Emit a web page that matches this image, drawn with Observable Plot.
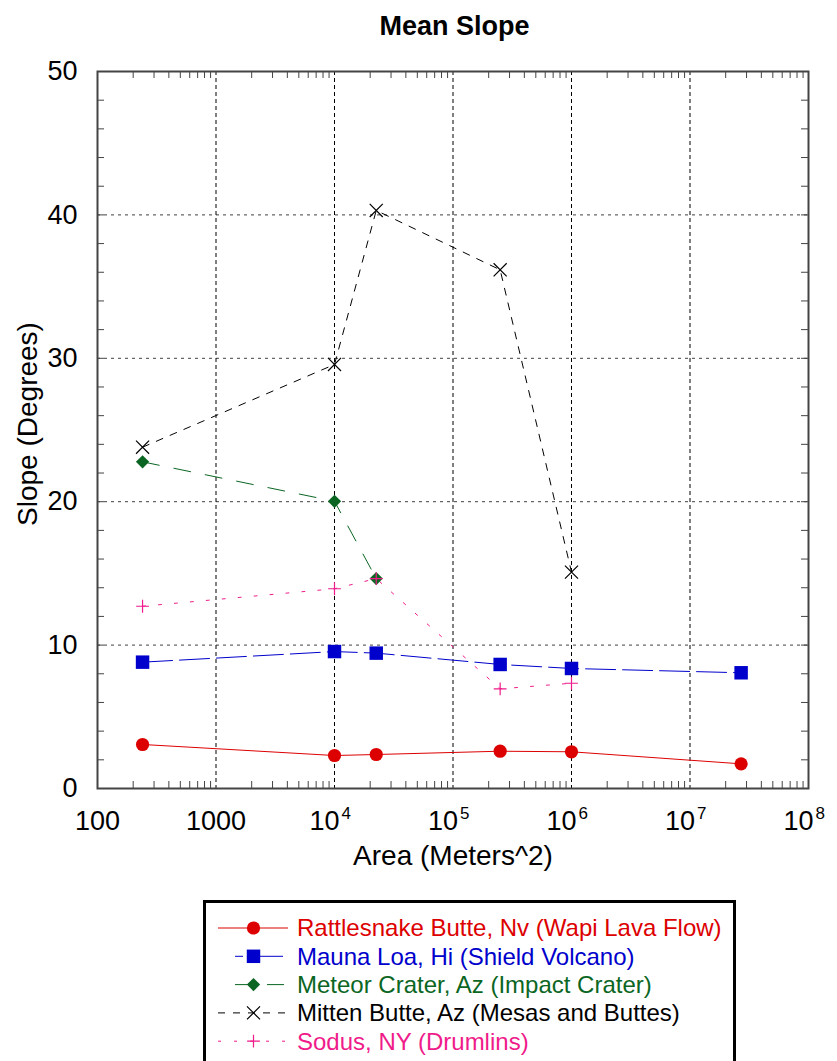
<!DOCTYPE html>
<html><head><meta charset="utf-8">
<script src="https://cdn.jsdelivr.net/npm/d3@7"></script>
<script src="https://cdn.jsdelivr.net/npm/@observablehq/plot@0.6"></script>
<style>
body{margin:0;background:#fff;font-family:"Liberation Sans",Arial,sans-serif;}
#wrap{position:relative;width:837px;height:1061px;overflow:hidden;background:#fff;}
#title{position:absolute;left:0;width:909px;top:13px;line-height:26px;text-align:center;font-weight:bold;font-size:27px;color:#000;}
#chart{position:absolute;left:0;top:0;}
#legend{position:absolute;left:203px;top:900px;}
</style></head>
<body><div id="wrap"><div id="chart"></div><div id="title">Mean Slope</div><div id="legend"></div></div>
<script>
// ---- data ----
const areas = [240, 1e4, 22500, 250000, 1e6, 2.7e7];
const seriesNames = [
  "Rattlesnake Butte, Nv (Wapi Lava Flow)",
  "Mauna Loa, Hi (Shield Volcano)",
  "Meteor Crater, Az (Impact Crater)",
  "Mitten Butte, Az (Mesas and Buttes)",
  "Sodus, NY (Drumlins)"
];
const rattlesnake = [3.07, 2.30, 2.37, 2.60, 2.56, 1.72];
const maunaLoa = [8.81, 9.55, 9.44, 8.65, 8.37, 8.07];
const meteorCrater = [22.78, 20.03, 14.64];
const mittenButte = [23.8, 29.57, 40.31, 36.17, 15.09];
const sodus = [12.71, 13.93, 14.64, 6.95, 7.34];
const xTicks = [100, 1000, 1e4, 1e5, 1e6, 1e7, 1e8];
const xTickBase = ["100", "1000", "10", "10", "10", "10", "10"];
const xTickExp = ["", "", "4", "5", "6", "7", "8"];
const yTicks = [0, 10, 20, 30, 40, 50];
const xLabel = "Area (Meters^2)";
const yLabel = "Slope (Degrees)";

// ---- styles ----
const seriesValues = [rattlesnake, maunaLoa, meteorCrater, mittenButte, sodus];
const styles = [
  {color: "#dd0000", dash: null, symbol: "circle", r: 6.6, filled: true, rotate: 0},
  {color: "#0000cc", dash: "30,7", symbol: "square", r: 7.6, filled: true, rotate: 0},
  {color: "#0b6623", dash: "17,15", symbol: "square", r: 5.3, filled: true, rotate: 45},
  {color: "#000000", dash: "7,8", symbol: "times", r: 6.0, filled: false, rotate: 0},
  {color: "#f01b8a", dash: "3,13", symbol: "plus", r: 4.2, filled: false, rotate: 0}
];
const legendDash = [null, "8,14,40", "17,15", "7,8", "3,13"];
const legendX1 = [15, 32, 32, 15, 15];
const legendX2 = [85, 80, 85, 85, 85];

const W = 837, H = 870, mL = 97, mR = 29, mT = 71, mB = 82;
const plotW = W - mL - mR, plotH = H - mT - mB;

const minorX = [];
for (let k = 2; k < 8; k++) for (let m = 2; m <= 9; m++) minorX.push(m * Math.pow(10, k));
const minorY = d3.range(0, 51, 2);

const marks = [];
// grid
marks.push(Plot.ruleX(xTicks.slice(1, -1), {stroke: "#000", strokeWidth: 1, strokeDasharray: "4,3"}));
marks.push(Plot.ruleY(yTicks.slice(1, -1), {stroke: "#000", strokeOpacity: 0.75, strokeWidth: 1, strokeDasharray: "3,4"}));
// inner ticks
marks.push(Plot.tickX(minorX, {x: d => d, insetTop: plotH - 7, stroke: "#444"}));
marks.push(Plot.tickX(minorX, {x: d => d, insetBottom: plotH - 7, stroke: "#444"}));
marks.push(Plot.tickY(minorY, {y: d => d, insetRight: plotW - 7, stroke: "#444"}));
marks.push(Plot.tickY(minorY, {y: d => d, insetLeft: plotW - 7, stroke: "#444"}));
marks.push(Plot.frame({stroke: "#444", strokeWidth: 2}));

// series
seriesValues.forEach((vals, s) => {
  const st = styles[s];
  const data = vals.map((v, i) => ({x: areas[i], y: v}));
  marks.push(Plot.line(data, {x: "x", y: "y", stroke: st.color, strokeWidth: 1, strokeDasharray: st.dash}));
});
seriesValues.forEach((vals, s) => {
  const st = styles[s];
  const data = vals.map((v, i) => ({x: areas[i], y: v}));
  marks.push(Plot.dot(data, {
    x: "x", y: "y", symbol: st.symbol, r: st.r, rotate: st.rotate,
    fill: st.filled ? st.color : "none",
    stroke: st.filled ? "none" : st.color, strokeWidth: 1.2
  }));
});

// tick labels
const idx = d3.range(xTicks.length);
marks.push(Plot.text(idx.filter(i => xTickExp[i] === ""), {x: i => xTicks[i], text: i => xTickBase[i], frameAnchor: "bottom", lineAnchor: "middle", dy: 33, fontSize: 27, textAnchor: "middle", fill: "#000"}));
marks.push(Plot.text(idx.filter(i => xTickExp[i] !== ""), {x: i => xTicks[i], text: i => xTickBase[i], frameAnchor: "bottom", lineAnchor: "middle", dy: 33, dx: 5, fontSize: 27, textAnchor: "end", fill: "#000"}));
marks.push(Plot.text(idx.filter(i => xTickExp[i] !== ""), {x: i => xTicks[i], text: i => xTickExp[i], frameAnchor: "bottom", lineAnchor: "middle", dy: 25, dx: 7, fontSize: 17, textAnchor: "start", fill: "#000"}));
marks.push(Plot.text(yTicks, {y: d => d, text: d => String(d), frameAnchor: "left", lineAnchor: "middle", dx: -20, fontSize: 27, textAnchor: "end", fill: "#000"}));
// axis titles
marks.push(Plot.text([xLabel], {text: d => d, frameAnchor: "bottom", lineAnchor: "middle", textAnchor: "middle", dy: 68, fontSize: 28, fill: "#000"}));
marks.push(Plot.text([yLabel], {text: d => d, frameAnchor: "left", lineAnchor: "middle", textAnchor: "middle", dx: -69, dy: -6, rotate: -90, fontSize: 28, fill: "#000"}));

const chart = Plot.plot({
  width: W, height: H,
  marginLeft: mL, marginRight: mR, marginTop: mT, marginBottom: mB,
  x: {type: "log", domain: [100, 1e8], axis: null},
  y: {type: "linear", domain: [0, 50], axis: null},
  style: {fontFamily: "'Liberation Sans', Arial, sans-serif", background: "#fff", overflow: "visible"},
  marks
});
document.getElementById("chart").appendChild(chart);

// ---- legend ----
const lg = d3.select("#legend").append("svg").attr("width", 540).attr("height", 170);
lg.append("rect").attr("x", 1.5).attr("y", 1.5).attr("width", 530).attr("height", 200)
  .attr("fill", "#fff").attr("stroke", "#000").attr("stroke-width", 3);
const rowY0 = 28, rowStep = 28.3;
const symMap = {circle: d3.symbolCircle, square: d3.symbolSquare, times: d3.symbolTimes, plus: d3.symbolPlus};
seriesNames.forEach((name, s) => {
  const st = styles[s];
  const y = rowY0 + s * rowStep;
  const g = lg.append("g");
  g.append("line").attr("x1", legendX1[s]).attr("x2", legendX2[s]).attr("y1", y).attr("y2", y)
    .attr("stroke", st.color).attr("stroke-width", 1)
    .attr("stroke-dasharray", legendDash[s]);
  const size = st.r * st.r * Math.PI;
  g.append("path").attr("d", d3.symbol(symMap[st.symbol], size)())
    .attr("transform", `translate(50.5,${y}) rotate(${st.rotate})`)
    .attr("fill", st.filled ? st.color : "none").attr("stroke", st.filled ? "none" : st.color).attr("stroke-width", 1.2);
  g.append("text").attr("x", 94).attr("y", y).attr("dy", "0.35em")
    .attr("font-size", 24).attr("font-family", "'Liberation Sans', Arial, sans-serif")
    .attr("fill", st.color).text(name);
});
</script>
</body></html>
